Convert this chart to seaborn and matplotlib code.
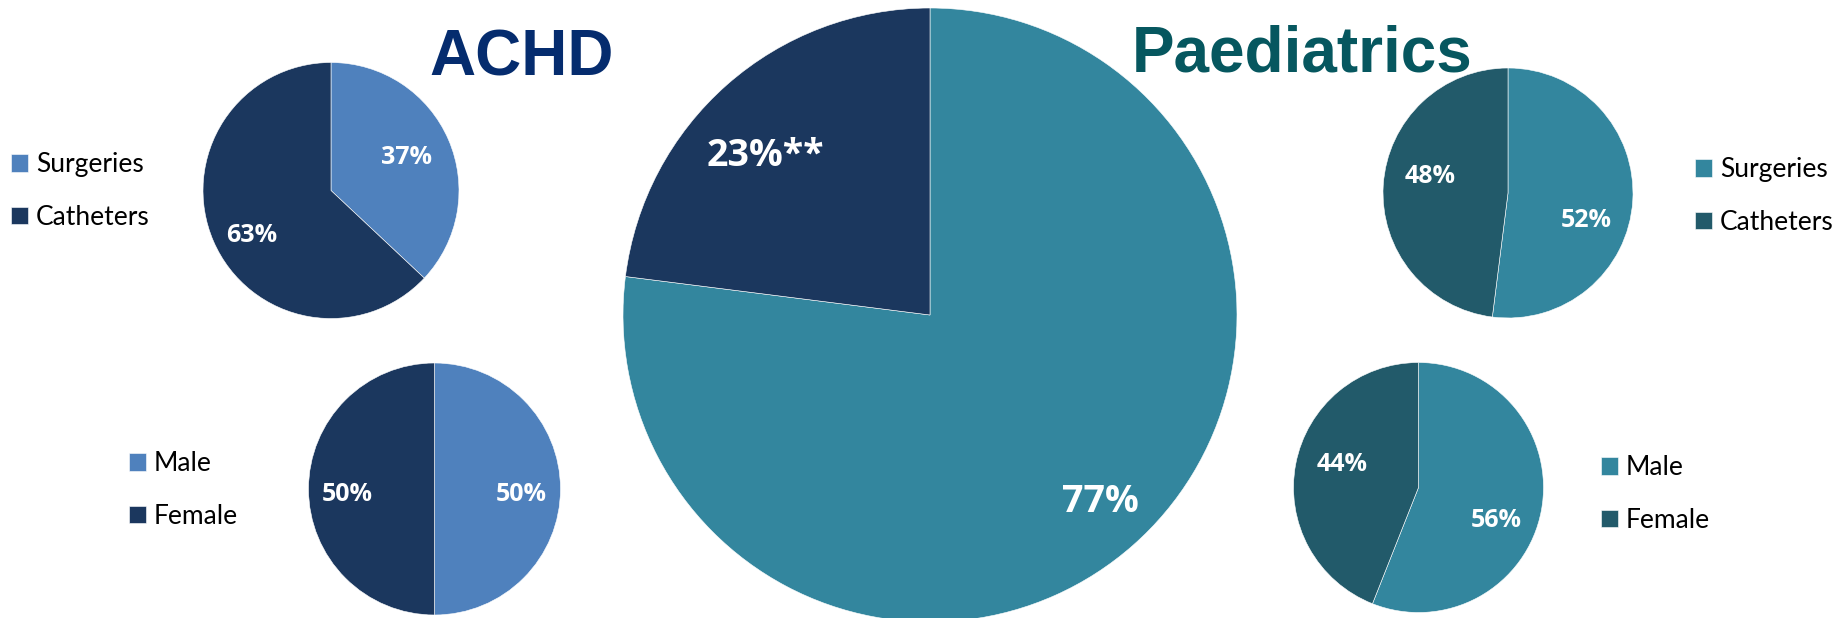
import numpy as np
import matplotlib
matplotlib.use("Agg")
import matplotlib.pyplot as plt
import seaborn as sns

# Share of all procedures by cohort
cohorts = ["Paediatrics", "ACHD"]
cohort_share = [77, 23]
cohort_note = ["", "**"]

# Procedure type within each cohort
procedures = ["Surgeries", "Catheters"]
achd_procedures = [37, 63]
paed_procedures = [52, 48]

# Sex split within each cohort
sexes = ["Male", "Female"]
achd_sex = [50, 50]
paed_sex = [56, 44]

W, H, DPI = 1839, 618, 100

sns.set_theme(style="white")
plt.rcParams["font.family"] = ["Lato", "DejaVu Sans"]

ACHD_LIGHT = "#4F81BD"
ACHD_DARK = "#1B375E"
PAED_LIGHT = "#33869E"
PAED_DARK = "#225A6A"
ACHD_TITLE = "#052C6E"
PAED_TITLE = "#06575F"
LABEL_FONT = ["Open Sans", "DejaVu Sans"]
TITLE_FONT = ["Liberation Sans", "DejaVu Sans"]

fig = plt.figure(figsize=(W / DPI, H / DPI), dpi=DPI)
fig.patch.set_facecolor("white")


def draw_pie(cx, cy, r, values, colors, label_r, fontsize, suffixes=None, shift=(0, 0)):
    """Pie centred at pixel (cx, cy) (y measured from the top) with radius r px.

    label_r and shift give, per wedge, the radial position of the value label
    and its angular offset (degrees) from the wedge's middle.
    """
    ax = fig.add_axes([(cx - r) / W, (H - cy - r) / H, 2 * r / W, 2 * r / H])
    wedges, _ = ax.pie(values, colors=colors, startangle=90, counterclock=False,
                       radius=1.0, wedgeprops=dict(edgecolor="white", linewidth=0.4))
    ax.set_xlim(-1, 1)
    ax.set_ylim(-1, 1)
    ax.set_aspect("equal")
    ax.axis("off")
    if suffixes is None:
        suffixes = [""] * len(values)
    for w, v, s, lr, sh in zip(wedges, values, suffixes, label_r, shift):
        mid = np.deg2rad((w.theta1 + w.theta2) / 2 + sh)
        # baseline placed half a cap height below the anchor so digits sit centred
        ax.annotate(f"{v}%{s}", (lr * np.cos(mid), lr * np.sin(mid)),
                    xytext=(0, -0.357 * fontsize), textcoords="offset points",
                    ha="center", va="baseline", color="white", fontsize=fontsize,
                    fontweight="bold", family=LABEL_FONT)
    return wedges


def add_legend(handles, labels, x_left, y_center):
    fig.legend(handles, labels, loc="center left",
               bbox_to_anchor=(x_left / W, 1 - y_center / H),
               frameon=False, fontsize=19, labelcolor="black",
               handlelength=0.64, handleheight=0.64, handletextpad=0.3,
               labelspacing=1.03, borderpad=0, borderaxespad=0)


# Cohort split (centre)
draw_pie(930, 315, 307, cohort_share, [PAED_LIGHT, ACHD_DARK], (0.815, 0.755), 27,
         suffixes=cohort_note, shift=(1.5, 4))

# ACHD
w = draw_pie(331, 190.5, 128, achd_procedures, [ACHD_LIGHT, ACHD_DARK],
             (0.655, 0.70), 18, shift=(1.6, 5))
add_legend(w, procedures, 11, 191)
w = draw_pie(434.5, 489, 126, achd_sex, [ACHD_LIGHT, ACHD_DARK],
             (0.69, 0.69), 18, shift=(-2, 2))
add_legend(w, sexes, 129, 490)

# Paediatrics
w = draw_pie(1508, 193, 125, paed_procedures, [PAED_LIGHT, PAED_DARK],
             (0.655, 0.64), 18, shift=(-14, -10))
add_legend(w, procedures, 1695, 196)
w = draw_pie(1418.5, 487.5, 125, paed_sex, [PAED_LIGHT, PAED_DARK],
             (0.666, 0.645), 18, shift=(-10.7, -7.6))
add_legend(w, sexes, 1601, 494)

# Headings
fig.text(429 / W, 1 - 76 / H, "ACHD", ha="left", va="baseline", color=ACHD_TITLE,
         fontsize=46, fontweight="bold", family=TITLE_FONT)
fig.text(1132 / W, 1 - 71 / H, "Paediatrics", ha="left", va="baseline", color=PAED_TITLE,
         fontsize=46, fontweight="bold", family=TITLE_FONT)

fig.savefig("out.png", dpi=DPI, facecolor="white")
